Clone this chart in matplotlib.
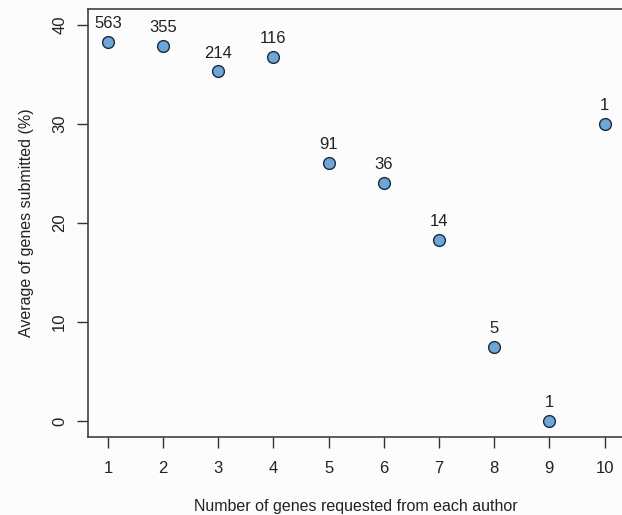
import matplotlib.pyplot as plt

plt.rcParams['font.family'] = ['Liberation Sans', 'DejaVu Sans']

# genes requested per author, mean % submitted, and number of authors
requested = [1, 2, 3, 4, 5, 6, 7, 8, 9, 10]
submitted_pct = [38.3, 37.9, 35.3, 36.8, 26.1, 24.0, 18.3, 7.5, 0.0, 30.0]
n_authors = [563, 355, 214, 116, 91, 36, 14, 5, 1, 1]

fig = plt.figure(figsize=(6.22, 5.15), dpi=100)
fig.patch.set_facecolor('#fcfcfd')
ax = fig.add_axes([0.1415, 0.1515, 0.8625, 0.831])
ax.set_facecolor('#fcfcfd')

ax.scatter(requested, submitted_pct, s=72, facecolor='#6aa8dc',
           edgecolor='#1e2a36', linewidth=1.0, zorder=3)
for x, y, n in zip(requested, submitted_pct, n_authors):
    ax.annotate(str(n), (x, y), xytext=(0, 10), textcoords='offset points',
                ha='center', va='baseline', fontsize=12, color='#222222')

ax.set_xlim(0.64, 10.36)
ax.set_ylim(-1.6, 41.6)
ax.set_xticks(requested)
ax.set_yticks([0, 10, 20, 30, 40])
ax.tick_params(axis='both', direction='out', width=1.0,
               color='#333333', labelsize=12, labelcolor='#222222')
ax.tick_params(axis='x', length=8, pad=9)
ax.tick_params(axis='y', length=8, pad=7)
for lab in ax.get_yticklabels():
    lab.set_rotation(90)
    lab.set_va('center')

for side in ['left', 'bottom', 'top', 'right']:
    ax.spines[side].set_color('#4a3f3a')
    ax.spines[side].set_linewidth(1.2)

ax.set_xlabel('Number of genes requested from each author', fontsize=11.5,
              color='#222222', labelpad=17)
ax.set_ylabel('Average of genes submitted (%)', fontsize=11.5,
              color='#222222', labelpad=13)

fig.savefig('out.png', dpi=100, facecolor=fig.get_facecolor())
